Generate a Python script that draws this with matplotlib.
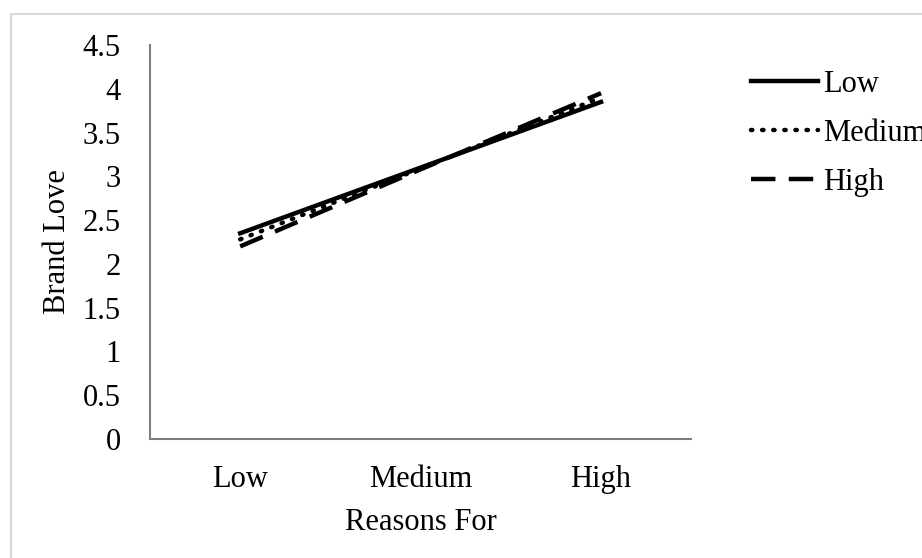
import matplotlib.pyplot as plt
from matplotlib.patches import Rectangle

# Datos
categorias = ['Low', 'Medium', 'High']
serie_low = [2.35, 3.10, 3.85]
serie_medium = [2.28, 3.09, 3.90]
serie_high = [2.20, 3.08, 3.95]
yticks = [0, 0.5, 1, 1.5, 2, 2.5, 3, 3.5, 4, 4.5]
ytick_labels = ['0', '0.5', '1', '1.5', '2', '2.5', '3', '3.5', '4', '4.5']

plt.rcParams['font.family'] = 'Liberation Serif'
plt.rcParams['font.size'] = 22

fig = plt.figure(figsize=(9.22, 5.58), dpi=100)
ax = fig.add_axes([0.1627, 0.2133, 0.587, 0.706])

# marco gris claro alrededor del grafico
fig.patches.append(Rectangle((10.5 / 922, -0.1), 1.2, 1 - 14.5 / 558 + 0.1,
                             transform=fig.transFigure, fill=False,
                             edgecolor='#d9d9d9', linewidth=1.5))

x = range(len(categorias))
ax.plot(x, serie_low, color='black', linewidth=3.2, linestyle='-', label='Low')
ax.plot(x, serie_medium, color='black', linewidth=3.2, linestyle=(0, (0.3, 2.2)),
        dash_capstyle='round', label='Medium')
ax.plot(x, serie_high, color='black', linewidth=3.2, linestyle=(0, (5.5, 3.0)),
        label='High')

ax.set_xlim(-0.5, 2.5)
ax.set_ylim(0, 4.5)
ax.set_xticks(list(x))
ax.set_xticklabels(categorias)
ax.set_yticks(yticks)
ax.set_yticklabels(ytick_labels)
ax.tick_params(length=0)
ax.tick_params(axis='x', pad=19)
ax.tick_params(axis='y', pad=21)

for lado in ['top', 'right']:
    ax.spines[lado].set_visible(False)
for lado in ['left', 'bottom']:
    ax.spines[lado].set_color('#7f7f7f')
    ax.spines[lado].set_linewidth(1.5)

ax.set_xlabel('Reasons For', labelpad=10)
ax.set_ylabel('Brand Love', labelpad=8)

# la leyenda queda cortada en el borde derecho, como en el original
ax.legend(loc='upper left', bbox_to_anchor=(751 / 922, 1 - 70 / 558),
          bbox_transform=fig.transFigure, frameon=False, handlelength=2.2,
          handletextpad=0.15, labelspacing=0.65, borderaxespad=0, borderpad=0)

fig.savefig('out.png', dpi=100)
